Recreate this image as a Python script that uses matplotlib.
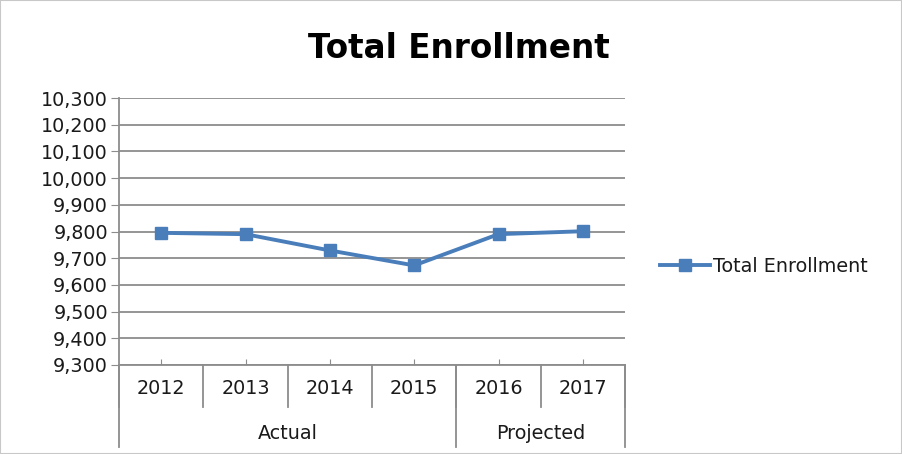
import matplotlib.pyplot as plt
from matplotlib.transforms import blended_transform_factory
from matplotlib.patches import Rectangle

# data
years = ["2012", "2013", "2014", "2015", "2016", "2017"]
enrollment = [9795, 9790, 9729, 9673, 9790, 9801]
groups = ["Actual", "Projected"]
group_sizes = [4, 2]
y_ticks = list(range(9300, 10301, 100))

plt.rcParams["font.family"] = ["DejaVu Sans"]

fig = plt.figure(figsize=(9.02, 4.54), dpi=100)
ax = fig.add_axes([119 / 902, 1 - 365 / 454, 506 / 902, 267 / 454])

grid_col = "#8c8c8c"
blue = "#4a7ebb"
text_col = "#1a1a1a"
fs = 13.8

x = list(range(len(years)))
ax.plot(x, enrollment, color=blue, lw=2.8, marker="s", markersize=9,
        markeredgecolor=blue, label="Total Enrollment", zorder=3)

ax.set_xlim(-0.5, len(years) - 0.5)
ax.set_ylim(y_ticks[0], y_ticks[-1])
ax.set_yticks(y_ticks)
ax.set_yticklabels([f"{v:,}" for v in y_ticks], fontsize=fs, color=text_col)
ax.yaxis.grid(True, color=grid_col, lw=1.3)
ax.set_axisbelow(True)
ax.tick_params(axis="y", direction="out", length=6, color=grid_col, pad=2)
ax.set_xticks(x)
ax.set_xticklabels([])
ax.tick_params(axis="x", direction="in", length=4, color=grid_col)

for side in ["top", "right"]:
    ax.spines[side].set_visible(False)
for side in ["left", "bottom"]:
    ax.spines[side].set_color(grid_col)
    ax.spines[side].set_linewidth(1.3)

trans = blended_transform_factory(ax.transData, ax.transAxes)

# year labels and boundaries
for i, yr in enumerate(years):
    ax.text(i, -0.087, yr, transform=trans, ha="center", va="center",
            fontsize=fs, color=text_col)
for i in range(len(years) + 1):
    ax.plot([i - 0.5, i - 0.5], [0, -0.157], transform=trans, color=grid_col,
            lw=1.3, clip_on=False)

# group labels and boundaries
start = 0
bounds = [0]
for g, n in zip(groups, group_sizes):
    center = start + (n - 1) / 2
    ax.text(center, -0.255, g, transform=trans, ha="center", va="center",
            fontsize=fs, color=text_col)
    start += n
    bounds.append(start)
for b in bounds:
    ax.plot([b - 0.5, b - 0.5], [0, -0.307], transform=trans, color=grid_col,
            lw=1.3, clip_on=False)

fig.text(459 / 902, 1 - 49 / 454, "Total Enrollment", ha="center", va="center",
         fontsize=23.5, fontweight="bold", color="#000000")

fig.legend(loc="center left", bbox_to_anchor=(660 / 902, 1 - 266 / 454),
           frameon=False, fontsize=fs, handlelength=2.6, handletextpad=0.15,
           borderpad=0, borderaxespad=0, labelcolor=text_col)

fig.patches.append(Rectangle((0, 0), 1, 1, transform=fig.transFigure, fill=False,
                             edgecolor="#c8c8c8", lw=1.5))

fig.savefig("out.png", dpi=100)
